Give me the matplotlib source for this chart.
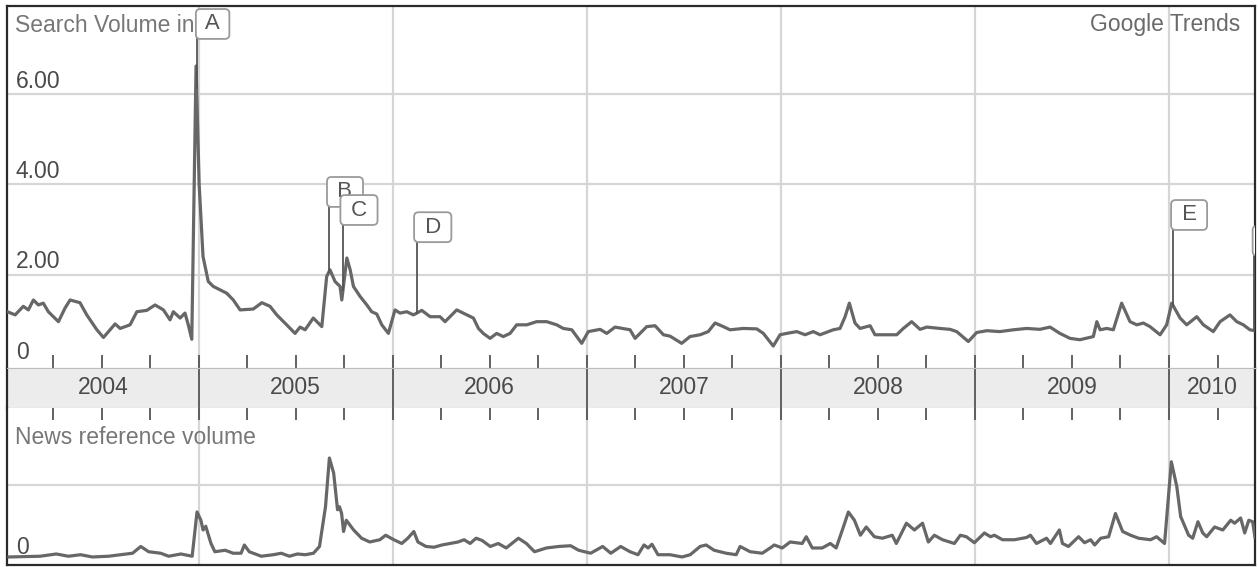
import matplotlib
matplotlib.use('Agg')
import matplotlib.pyplot as plt
import numpy as np

plt.rcParams['font.family'] = ['Liberation Sans', 'DejaVu Sans']

# search volume (decimal year, value)
search_t = [
    2004.015, 2004.055, 2004.097, 2004.123, 2004.149, 2004.175, 2004.200, 2004.226, 2004.252, 2004.278,
    2004.312, 2004.338, 2004.389, 2004.424, 2004.476, 2004.510, 2004.544, 2004.570, 2004.596, 2004.647,
    2004.682, 2004.733, 2004.776, 2004.819, 2004.853, 2004.870, 2004.905, 2004.930, 2004.947, 2004.965,
    2004.987,
    2005.003, 2005.023, 2005.050, 2005.076, 2005.145, 2005.179, 2005.214, 2005.282, 2005.326, 2005.368,
    2005.403, 2005.454, 2005.497, 2005.523, 2005.549, 2005.591, 2005.635, 2005.660, 2005.677, 2005.703,
    2005.729, 2005.738, 2005.764, 2005.781, 2005.798, 2005.832, 2005.867, 2005.892, 2005.918, 2005.944,
    2005.978,
    2006.012, 2006.038, 2006.073, 2006.107, 2006.150, 2006.193, 2006.244, 2006.270, 2006.330, 2006.382,
    2006.416, 2006.442, 2006.467, 2006.502, 2006.536, 2006.570, 2006.605, 2006.639, 2006.691, 2006.742,
    2006.794, 2006.845, 2006.879, 2006.923, 2006.974,
    2007.008, 2007.069, 2007.103, 2007.146, 2007.223, 2007.249, 2007.309, 2007.352, 2007.395, 2007.429,
    2007.489, 2007.532, 2007.584, 2007.626, 2007.661, 2007.704, 2007.738, 2007.807, 2007.876, 2007.910,
    2007.961, 2007.996,
    2008.030, 2008.082, 2008.125, 2008.167, 2008.202, 2008.270, 2008.305, 2008.331, 2008.353, 2008.382,
    2008.408, 2008.460, 2008.485, 2008.597, 2008.631, 2008.674, 2008.717, 2008.752, 2008.820, 2008.872,
    2008.906, 2008.966,
    2009.009, 2009.061, 2009.129, 2009.198, 2009.267, 2009.335, 2009.387, 2009.438, 2009.490, 2009.541,
    2009.610, 2009.628, 2009.645, 2009.679, 2009.713, 2009.756, 2009.799, 2009.834, 2009.868, 2009.902,
    2009.954, 2009.988,
    2010.014, 2010.057, 2010.091, 2010.143, 2010.177, 2010.228, 2010.263, 2010.314, 2010.349, 2010.383,
    2010.417, 2010.443,
]
search_v = [
    1.18, 1.11, 1.30, 1.22, 1.44, 1.33, 1.37, 1.18, 1.07, 0.96,
    1.26, 1.44, 1.38, 1.11, 0.78, 0.61, 0.78, 0.91, 0.81, 0.89,
    1.18, 1.21, 1.33, 1.22, 1.00, 1.18, 1.04, 1.15, 0.89, 0.57,
    6.62,
    4.00, 2.40, 1.85, 1.74, 1.59, 1.44, 1.22, 1.24, 1.38, 1.30,
    1.11, 0.89, 0.70, 0.84, 0.78, 1.04, 0.85, 1.96, 2.11, 1.85,
    1.74, 1.44, 2.37, 2.11, 1.74, 1.52, 1.33, 1.18, 1.13, 0.89,
    0.70,
    1.22, 1.15, 1.18, 1.11, 1.21, 1.07, 1.07, 0.96, 1.22, 1.11,
    1.04, 0.81, 0.70, 0.59, 0.70, 0.63, 0.70, 0.89, 0.89, 0.96,
    0.96, 0.89, 0.81, 0.78, 0.48,
    0.74, 0.79, 0.70, 0.84, 0.78, 0.59, 0.85, 0.87, 0.67, 0.64,
    0.48, 0.63, 0.67, 0.74, 0.93, 0.85, 0.78, 0.81, 0.80, 0.70,
    0.42, 0.67,
    0.70, 0.74, 0.67, 0.74, 0.67, 0.78, 0.81, 1.07, 1.37, 0.93,
    0.81, 0.87, 0.67, 0.67, 0.81, 0.96, 0.79, 0.84, 0.81, 0.79,
    0.74, 0.52,
    0.72, 0.76, 0.74, 0.78, 0.81, 0.79, 0.84, 0.70, 0.59, 0.56,
    0.63, 0.96, 0.78, 0.81, 0.78, 1.37, 0.96, 0.89, 0.93, 0.85,
    0.67, 0.89,
    1.37, 1.04, 0.89, 1.07, 0.89, 0.74, 0.96, 1.11, 0.96, 0.89,
    0.78, 0.76,
]

# news reference volume (no scale shown, gridline = 1)
news_t = [
    2004.023, 2004.184, 2004.267, 2004.329, 2004.392, 2004.453, 2004.536, 2004.598, 2004.660, 2004.702,
    2004.743, 2004.805, 2004.846, 2004.909, 2004.967, 2004.992,
    2005.012, 2005.023, 2005.037, 2005.064, 2005.084, 2005.137, 2005.178, 2005.219, 2005.236, 2005.261,
    2005.323, 2005.385, 2005.426, 2005.468, 2005.509, 2005.550, 2005.592, 2005.623, 2005.654, 2005.674,
    2005.696, 2005.716, 2005.726, 2005.737, 2005.747, 2005.761, 2005.799, 2005.840, 2005.882, 2005.934,
    2005.964,
    2006.006, 2006.047, 2006.078, 2006.109, 2006.130, 2006.172, 2006.213, 2006.254, 2006.296, 2006.337,
    2006.368, 2006.399, 2006.430, 2006.461, 2006.503, 2006.544, 2006.585, 2006.648, 2006.689, 2006.731,
    2006.792, 2006.855, 2006.917, 2006.958,
    2007.020, 2007.082, 2007.124, 2007.175, 2007.223, 2007.264, 2007.295, 2007.316, 2007.336, 2007.367,
    2007.429, 2007.491, 2007.533, 2007.584, 2007.615, 2007.656, 2007.718, 2007.770, 2007.790, 2007.842,
    2007.904, 2007.945, 2007.966,
    2008.007, 2008.048, 2008.110, 2008.131, 2008.162, 2008.213, 2008.255, 2008.285, 2008.317, 2008.348,
    2008.379, 2008.410, 2008.440, 2008.482, 2008.523, 2008.574, 2008.595, 2008.647, 2008.688, 2008.730,
    2008.760, 2008.791, 2008.833, 2008.894, 2008.925, 2008.956, 2008.997,
    2009.049, 2009.080, 2009.100, 2009.142, 2009.204, 2009.266, 2009.286, 2009.317, 2009.369, 2009.389,
    2009.435, 2009.451, 2009.482, 2009.534, 2009.565, 2009.596, 2009.617, 2009.648, 2009.689, 2009.724,
    2009.761, 2009.802, 2009.843, 2009.905, 2009.936, 2009.977,
    2010.012, 2010.040, 2010.060, 2010.101, 2010.122, 2010.149, 2010.174, 2010.194, 2010.235, 2010.277,
    2010.318, 2010.338, 2010.369, 2010.390, 2010.411, 2010.431, 2010.443,
]
news_v = [
    0.04, 0.05, 0.08, 0.05, 0.07, 0.04, 0.05, 0.07, 0.09, 0.18,
    0.11, 0.09, 0.05, 0.08, 0.05, 0.64,
    0.53, 0.40, 0.45, 0.22, 0.11, 0.13, 0.09, 0.09, 0.20, 0.11,
    0.05, 0.07, 0.09, 0.05, 0.08, 0.07, 0.09, 0.18, 0.71, 1.36,
    1.16, 0.67, 0.71, 0.62, 0.38, 0.53, 0.40, 0.29, 0.24, 0.27,
    0.33,
    0.27, 0.22, 0.29, 0.38, 0.24, 0.18, 0.17, 0.20, 0.22, 0.24,
    0.27, 0.22, 0.29, 0.26, 0.18, 0.22, 0.16, 0.29, 0.22, 0.11,
    0.16, 0.18, 0.19, 0.13,
    0.09, 0.18, 0.09, 0.18, 0.11, 0.07, 0.20, 0.16, 0.21, 0.07,
    0.07, 0.04, 0.07, 0.18, 0.20, 0.13, 0.09, 0.07, 0.18, 0.11,
    0.09, 0.16, 0.20,
    0.16, 0.24, 0.22, 0.31, 0.16, 0.16, 0.22, 0.16, 0.40, 0.64,
    0.53, 0.33, 0.44, 0.31, 0.29, 0.33, 0.22, 0.49, 0.40, 0.49,
    0.24, 0.33, 0.27, 0.22, 0.33, 0.31, 0.23,
    0.36, 0.31, 0.33, 0.27, 0.27, 0.30, 0.33, 0.22, 0.29, 0.22,
    0.40, 0.22, 0.18, 0.31, 0.23, 0.27, 0.20, 0.29, 0.31, 0.62,
    0.38, 0.33, 0.29, 0.27, 0.31, 0.22,
    1.31, 0.98, 0.58, 0.33, 0.29, 0.51, 0.36, 0.31, 0.44, 0.40,
    0.53, 0.49, 0.56, 0.36, 0.53, 0.51, 0.30,
]

years = [2004, 2005, 2006, 2007, 2008, 2009, 2010]
y_ticks = [0, 2, 4, 6]
y_labels = ['0', '2.00', '4.00', '6.00']

flag_letters = ['A', 'B', 'C', 'D', 'E', 'F']
flag_t = [2004.990, 2005.672, 2005.744, 2006.124, 2010.021, 2010.438]
flag_top = [7.22, 3.50, 3.10, 2.72, 2.99, 2.42]   # where each flag box sits

LINE = '#676767'
GRID = '#d6d6d6'
TXT = '#4a4a4a'
FRAME = '#2a2a2a'

W, H = 1258, 567
fig = plt.figure(figsize=(W / 100, H / 100), dpi=100)


def px_rect(left, top, right, bottom):
    return [left / W, 1 - bottom / H, (right - left) / W, (bottom - top) / H]


ax = fig.add_axes(px_rect(7, 6, 1255, 368))
band = fig.add_axes(px_rect(7, 368, 1255, 408))
axn = fig.add_axes(px_rect(7, 408, 1255, 565))

xmin, xmax = 2004.013, 2010.443
quarters = [y + q for y in years for q in (0, 0.25, 0.5, 0.75)]
quarters = [q for q in quarters if xmin < q < xmax]

# --- search volume panel
ax.plot(search_t, search_v, color=LINE, lw=2.3, solid_joinstyle='round', zorder=3)
ax.set_xticks(quarters)
ax.set_xlim(xmin, xmax)
ax.set_ylim(-0.066, 7.95)
for v in y_ticks[1:]:
    ax.axhline(v, color=GRID, lw=1.6, zorder=1)
for yr in years[1:]:
    ax.axvline(yr, color=GRID, lw=1.6, zorder=1)
for v, lab in zip(y_ticks, y_labels):
    ax.annotate(lab, xy=(0, v), xycoords=('axes fraction', 'data'), xytext=(9, 13),
                textcoords='offset pixels', ha='left', va='center', fontsize=16.5, color=TXT)
ax.set_yticks([])
ax.tick_params(axis='x', direction='in', length=9.4, width=1.3, color='#555555',
               labelbottom=False)
for s in ['left', 'top', 'right']:
    ax.spines[s].set_color(FRAME)
    ax.spines[s].set_linewidth(1.6)
ax.spines['bottom'].set_color('#bdbdbd')

ax.annotate('Search Volume in', xy=(0, 1), xycoords='axes fraction', xytext=(8, -19),
            textcoords='offset pixels', ha='left', va='center', fontsize=16.5, color='#777777')
ax.annotate('Google Trends', xy=(1, 1), xycoords='axes fraction', xytext=(-15, -19),
            textcoords='offset pixels', ha='right', va='center', fontsize=16.5, color='#6a6a6a')

# event flags
for lab, t, top in zip(flag_letters, flag_t, flag_top):
    base = np.interp(t, search_t, search_v)
    ax.plot([t, t], [base, top], color='#555555', lw=1.3, zorder=4)
    ax.annotate(' ' + lab + ' ', xy=(t, top), xytext=(16, 15), textcoords='offset pixels',
                ha='center', va='center', fontsize=16, color='#555555', zorder=5,
                clip_on=True,
                bbox=dict(boxstyle='round,pad=0.2,rounding_size=0.2', fc='white',
                          ec='#9a9a9a', lw=1.3))

# --- year band
band.set_facecolor('#ececec')
band.set_xticks([])
band.set_yticks([])
band.set_xlim(xmin, xmax)
band.set_ylim(0, 1)
for yr in years[1:]:
    band.axvline(yr, color='#555555', lw=1.3)
edges = [xmin] + years[1:] + [xmax]
for yr, a, b in zip(years, edges[:-1], edges[1:]):
    band.text((a + b) / 2, 0.5, str(yr), ha='center', va='center', fontsize=16.5, color=TXT)
for s in ['left', 'right']:
    band.spines[s].set_color(FRAME)
    band.spines[s].set_linewidth(1.6)
for s in ['top', 'bottom']:
    band.spines[s].set_color('#bdbdbd')

# --- news panel
axn.plot(news_t, news_v, color=LINE, lw=2.3, solid_joinstyle='round', zorder=3)
axn.set_xticks(quarters)
axn.set_xlim(xmin, xmax)
axn.set_ylim(-0.067, 2.027)
axn.axhline(1.0, color=GRID, lw=1.6, zorder=1)
for yr in years[1:]:
    axn.axvline(yr, color=GRID, lw=1.6, zorder=1)
axn.set_yticks([])
axn.tick_params(axis='x', direction='in', length=8.6, width=1.3, color='#555555',
                bottom=False, top=True, labelbottom=False)
for s in ['left', 'bottom', 'right']:
    axn.spines[s].set_color(FRAME)
    axn.spines[s].set_linewidth(1.6)
axn.spines['top'].set_visible(False)
axn.annotate('News reference volume', xy=(0, 1), xycoords='axes fraction', xytext=(8, -30),
             textcoords='offset pixels', ha='left', va='center', fontsize=16.5, color='#777777')
axn.annotate('0', xy=(0, 0), xycoords=('axes fraction', 'data'), xytext=(9, 12),
             textcoords='offset pixels', ha='left', va='center', fontsize=16.5, color=TXT)

fig.savefig('out.png', dpi=100, facecolor='white')
